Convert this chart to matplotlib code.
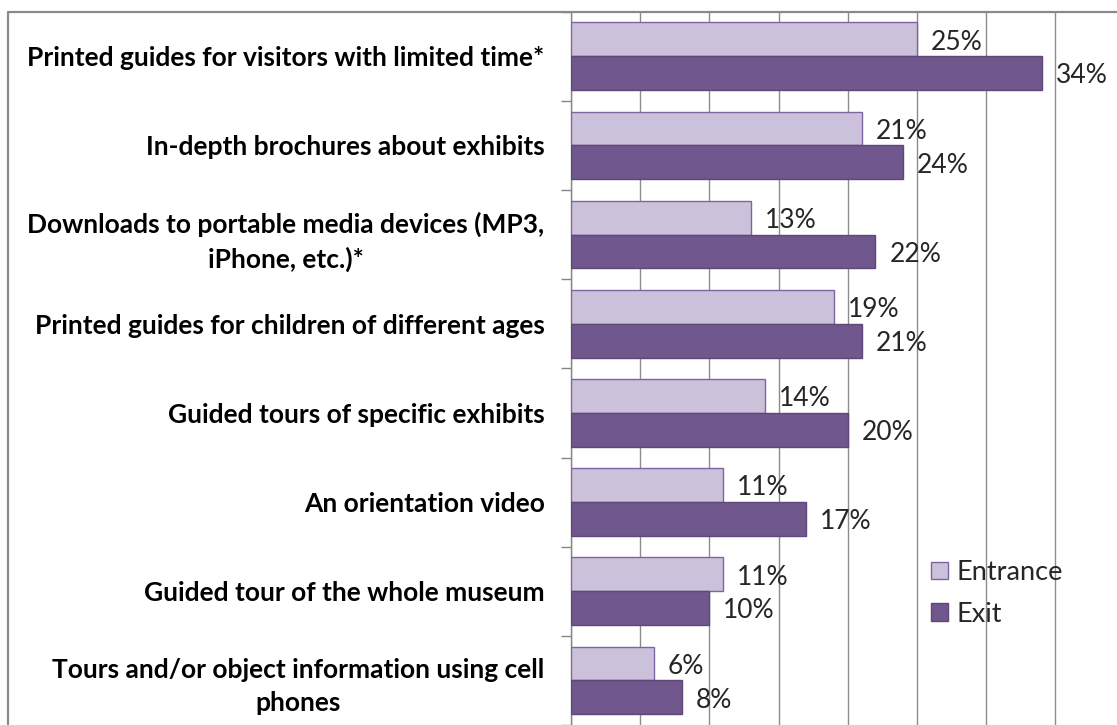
import matplotlib
matplotlib.use('Agg')
import matplotlib.pyplot as plt
from matplotlib.patches import Patch
from matplotlib.lines import Line2D
import numpy as np

categories = [
    "Printed guides for visitors with limited time*",
    "In-depth brochures about exhibits",
    "Downloads to portable media devices (MP3,\niPhone, etc.)*",
    "Printed guides for children of different ages",
    "Guided tours of specific exhibits",
    "An orientation video",
    "Guided tour of the whole museum",
    "Tours and/or object information using cell\nphones",
]
entrance = [25, 21, 13, 19, 14, 11, 11, 6]
exit_vals = [34, 24, 22, 21, 20, 17, 10, 8]
series_names = ["Entrance", "Exit"]
x_ticks = [0, 5, 10, 15, 20, 25, 30, 35]

plt.rcParams['font.family'] = ['Lato', 'DejaVu Sans']

W, H = 1117, 725
fig = plt.figure(figsize=(W / 100, H / 100), dpi=100)
fig.patch.set_facecolor('white')

ax_left_px = 571
ax_top_px = 11.7
ax = fig.add_axes([ax_left_px / W, 0, 1 - ax_left_px / W, 1 - ax_top_px / H])

px_per_unit_x = 13.84
xmax = (W - ax_left_px) / px_per_unit_x
cat_px = 90
ymax = -0.5 + (H - ax_top_px) / cat_px

c_ent, e_ent = '#CCC1DA', '#7F659F'
c_exit, e_exit = '#70588E', '#5D4878'

y = np.arange(len(categories))
bh = 0.38
ax.barh(y - bh / 2, entrance, height=bh, color=c_ent, edgecolor=e_ent,
        linewidth=1.0, zorder=3)
ax.barh(y + bh / 2, exit_vals, height=bh, color=c_exit, edgecolor=e_exit,
        linewidth=1.0, zorder=3)

for yy, v in zip(y - bh / 2, entrance):
    ax.annotate(f"{v}%", xy=(v, yy), xytext=(10, -2), textcoords='offset points',
                ha='left', va='center', fontsize=19, color='#262626', zorder=5)
for yy, v in zip(y + bh / 2, exit_vals):
    ax.annotate(f"{v}%", xy=(v, yy), xytext=(10, -2), textcoords='offset points',
                ha='left', va='center', fontsize=19, color='#262626', zorder=5)

ax.set_xlim(0, xmax)
ax.set_ylim(ymax, -0.5)

ax.set_xticks(x_ticks)
ax.xaxis.grid(True, color='#8c8c8c', linewidth=1.0)
ax.set_axisbelow(True)
ax.tick_params(axis='x', length=0, labelbottom=False)

bounds = np.arange(-0.5, len(categories) + 0.5, 1)
ax.set_yticks(bounds)
ax.tick_params(axis='y', which='major', length=7, width=1, color='#868686',
               direction='out', labelleft=False)
ax.set_yticks(y, categories, minor=True)
ax.tick_params(axis='y', which='minor', length=0, pad=19, labelsize=19,
               labelcolor='#000000')
for lab in ax.get_yticklabels(minor=True):
    lab.set_fontweight('bold')
    lab.set_multialignment('center')
    lab.set_linespacing(1.45)

for s in ['top', 'right', 'bottom']:
    ax.spines[s].set_visible(False)
ax.spines['left'].set_color('#868686')
ax.spines['left'].set_linewidth(1.0)

handles = [Patch(facecolor=c_ent, edgecolor=e_ent, linewidth=1.0),
           Patch(facecolor=c_exit, edgecolor=e_exit, linewidth=1.0)]
fig.legend(handles, series_names, loc='upper left',
           bbox_to_anchor=(931 / W, 1 - 560 / H), bbox_transform=fig.transFigure,
           frameon=False, fontsize=19.5, handlelength=0.62, handleheight=0.62,
           handletextpad=0.33, labelspacing=0.62, borderpad=0, borderaxespad=0,
           labelcolor='#262626')

fig.add_artist(Line2D([8 / W, 8 / W, 1.0], [0, 1 - 11.5 / H, 1 - 11.5 / H],
                      transform=fig.transFigure, color='#8a8a8a', linewidth=1.6))

fig.savefig('out.png', dpi=100)
